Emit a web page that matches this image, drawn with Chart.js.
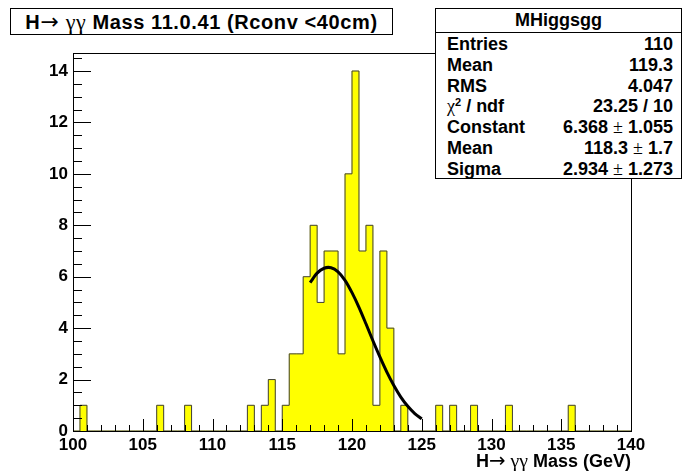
<!DOCTYPE html>
<html>
<head>
<meta charset="utf-8">
<script src="https://cdn.jsdelivr.net/npm/chart.js@4.4.1/dist/chart.umd.min.js"></script>
<style>
  body { margin: 0; background: #fff; }
  #wrap { position: relative; width: 683px; height: 472px; font-family: "Liberation Sans", Arial, sans-serif; }
  #titleBox {
    position: absolute; left: 10px; top: 8px; width: 383px; height: 27px;
    box-sizing: border-box; border: 1px solid #000; background: #fff;
    font-weight: bold; font-size: 20px; letter-spacing: 0.6px; line-height: 25px; text-align: center;
  }
  .sym { font-family: "Liberation Serif", "DejaVu Serif", serif; font-weight: normal; font-size: 1.1em; }
  .arr { font-family: "DejaVu Sans", sans-serif; font-weight: normal; font-size: 1.1em; }
  #stats {
    position: absolute; left: 435px; top: 8px; width: 247px; height: 171px;
    box-sizing: border-box; border: 1px solid #000; background: #fff;
    font-weight: bold; font-size: 18px;
  }
  #stats .head { height: 23px; line-height: 23px; text-align: center; border-bottom: 1px solid #000; }
  #stats .row { display: flex; justify-content: space-between; height: 20.8px; line-height: 20.8px; padding: 0 8px 0 11px; }
  #stats .row .sym { font-size: 1em; }
  #stats .sup { font-size: 11px; position: relative; top: -6px; }
  #xTitle {
    position: absolute; right: 52px; top: 450px; font-weight: bold; font-size: 18px; line-height: 20px;
  }
</style>
</head>
<body>
<div id="wrap">
  <canvas id="histo" width="683" height="472"></canvas>
  <div id="titleBox">H<span class="arr">→</span> <span class="sym">γγ</span> Mass 11.0.41 (Rconv &lt;40cm)</div>
  <div id="stats"></div>
  <div id="xTitle">H<span class="arr">→</span> <span class="sym">γγ</span> Mass (GeV)</div>
</div>
<script>
// histogram: 80 bins of 0.5 GeV from 100 to 140
const binStart = 100;
const binWidth = 0.5;
const counts = [
  0, 1, 0, 0, 0, 0, 0, 0, 0, 0,
  0, 0, 1, 0, 0, 0, 1, 0, 0, 0,
  0, 0, 0, 0, 0, 1, 0, 1, 2, 0,
  1, 3, 3, 6, 8, 5, 7, 7, 3, 10,
  14, 7, 8, 1, 7, 4, 0, 1, 0, 0,
  0, 0, 1, 0, 1, 0, 0, 1, 0, 0,
  0, 0, 1, 0, 0, 0, 0, 0, 0, 0,
  0, 1, 0, 0, 0, 0, 0, 0, 0, 0
];

// gaussian fit curve as drawn (117 - 125 GeV)
const fitX = [117, 117.5, 118, 118.5, 119, 119.5, 120, 120.5, 121, 121.5, 122, 122.5, 123, 123.5, 124, 124.5, 125];
const fitY = [5.77, 6.14, 6.33, 6.35, 6.19, 5.86, 5.38, 4.81, 4.17, 3.51, 2.88, 2.29, 1.77, 1.32, 0.96, 0.68, 0.47];

const xTickLabels = [100, 105, 110, 115, 120, 125, 130, 135, 140];
const yTickLabels = [0, 2, 4, 6, 8, 10, 12, 14];

const statLabels = ["Entries", "Mean", "RMS", '<span class="sym">χ</span><span class="sup">2</span> / ndf', "Constant", "Mean", "Sigma"];
const statValues = ["110", "119.3", "4.047", "23.25 / 10",
  '6.368 <span class="sym">±</span> 1.055', '118.3 <span class="sym">±</span> 1.7', '2.934 <span class="sym">±</span> 1.273'];

// stats box
const stats = document.getElementById("stats");
let html = '<div class="head">MHiggsgg</div><div style="padding-top:1px">';
statLabels.forEach((l, i) => {
    html += '<div class="row"><span>' + l + '</span><span>' + statValues[i] + '</span></div>';
});
stats.innerHTML = html + '</div>';

const bars = counts.map((c, i) => ({ x: binStart + binWidth * (i + 0.5), y: c }));
// step outline of the histogram: point k = right edge of bin k-1
const outline = [{ x: binStart, y: 0 }];
counts.forEach((c, i) => outline.push({ x: binStart + binWidth * (i + 1), y: c }));
outline.push({ x: binStart + binWidth * counts.length, y: 0 });
const fit = fitX.map((x, i) => ({ x, y: fitY[i] }));

// frame + inward ROOT-style ticks
const frameTicks = {
    id: "frameTicks",
    afterDatasetsDraw(chart) {
        const { ctx, chartArea: a, scales: { x, y } } = chart;
        ctx.save();
        ctx.strokeStyle = "#000";
        ctx.lineWidth = 1;
        ctx.beginPath();
        for (let v = 100; v <= 140; v += 1) {
            const px = Math.round(x.getPixelForValue(v)) + 0.5;
            const len = v % 5 === 0 ? 12 : 6;
            ctx.moveTo(px, a.bottom);
            ctx.lineTo(px, a.bottom - len);
        }
        for (let v = 0; v <= 14.7; v += 0.5) {
            const py = Math.round(y.getPixelForValue(v)) + 0.5;
            const len = v % 2 === 0 ? 18 : 9;
            ctx.moveTo(a.left, py);
            ctx.lineTo(a.left + len, py);
        }
        ctx.stroke();
        ctx.strokeRect(Math.round(a.left) + 0.5, Math.round(a.top) + 0.5,
            Math.round(a.right - a.left), Math.round(a.bottom - a.top));
        ctx.restore();
    }
};

new Chart(document.getElementById("histo"), {
    type: "bar",
    data: {
        datasets: [
            {
                type: "line",
                data: fit,
                borderColor: "#000",
                borderWidth: 3,
                pointRadius: 0,
                tension: 0.3,
                order: 1
            },
            {
                type: "line",
                data: outline,
                stepped: "after",
                borderColor: "#3d3d3d",
                borderWidth: 1,
                pointRadius: 0,
                order: 2
            },
            {
                data: bars,
                backgroundColor: "#ffff00",
                borderWidth: 0,
                barPercentage: 1,
                categoryPercentage: 1,
                order: 3
            }
        ]
    },
    options: {
        responsive: false,
        animation: false,
        layout: { padding: { left: 0, right: 52, top: 53, bottom: 0 } },
        plugins: { legend: { display: false }, tooltip: { enabled: false } },
        scales: {
            x: {
                type: "linear",
                min: 100,
                max: 140,
                offset: false,
                grid: { display: false, drawTicks: false },
                border: { display: false },
                afterBuildTicks: s => { s.ticks = xTickLabels.map(v => ({ value: v })); },
                afterFit: s => { s.height = 41; },
                ticks: {
                    padding: 4,
                    maxRotation: 0,
                    color: "#000",
                    font: { family: "Liberation Sans", size: 17, weight: "bold" }
                }
            },
            y: {
                min: 0,
                max: 14.7,
                grid: { display: false, drawTicks: false },
                border: { display: false },
                afterBuildTicks: s => { s.ticks = yTickLabels.map(v => ({ value: v })); },
                afterFit: s => { s.width = 73; },
                ticks: {
                    padding: 5,
                    color: "#000",
                    font: { family: "Liberation Sans", size: 17, weight: "bold" }
                }
            }
        }
    },
    plugins: [frameTicks]
});
</script>
</body>
</html>
